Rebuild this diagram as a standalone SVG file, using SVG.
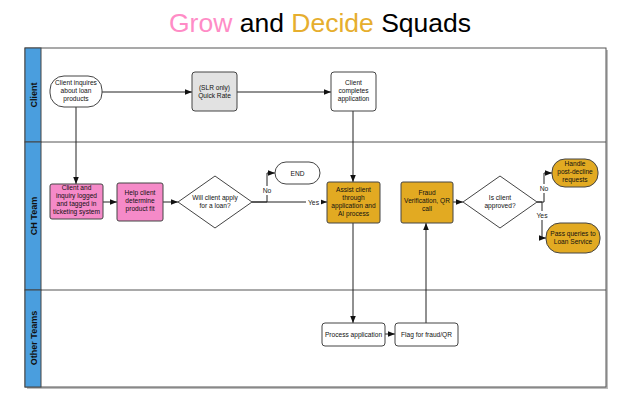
<svg xmlns="http://www.w3.org/2000/svg" width="632" height="418" viewBox="0 0 632 418">
  <defs>
    <marker id="arrow" viewBox="0 0 10 10" refX="10" refY="5" markerWidth="7" markerHeight="7" markerUnits="userSpaceOnUse" orient="auto">
      <path d="M0,1 L10,5 L0,9 Z" fill="#111"/>
    </marker>
    <style>
      .lane { fill: #ffffff; stroke: #555; stroke-width: 1; }
      .head { fill: #4a9ede; stroke: #444; stroke-width: 1; }
      .lanelabel { font-family: "Liberation Sans", Arial, sans-serif; font-size: 9px; font-weight: bold; fill: #111; text-anchor: middle; }
      .node { stroke: #444; stroke-width: 1; }
      .white { fill: #ffffff; }
      .gray { fill: #e2e2e2; }
      .pink { fill: #f58ac8; }
      .gold { fill: #e2aa22; }
      .t { font-family: "Liberation Sans", Arial, sans-serif; font-size: 6.6px; fill: #111; text-anchor: middle; }
      .edge { fill: none; stroke: #222; stroke-width: 1; }
      .elabel { font-family: "Liberation Sans", Arial, sans-serif; font-size: 6.8px; fill: #222; text-anchor: middle; }
    </style>
  </defs>

  <rect width="632" height="418" fill="#ffffff"/>

  <!-- title -->
  <text x="320" y="32" text-anchor="middle" font-family="Liberation Sans, Arial, sans-serif" font-size="26.5"><tspan fill="#ff8cc6">Grow</tspan><tspan fill="#000"> and </tspan><tspan fill="#e6ae2e">Decide</tspan><tspan fill="#000"> Squads</tspan></text>

  <!-- pool with lanes -->
  <g id="pool">
    <rect x="27" y="50" width="581" height="339" fill="#bdbdbd"/>
    <rect class="lane" x="25" y="48" width="581" height="339"/>
    <line x1="25" y1="142" x2="606" y2="142" stroke="#555" stroke-width="1"/>
    <line x1="25" y1="290" x2="606" y2="290" stroke="#555" stroke-width="1"/>
    <rect class="head" x="25" y="48" width="16" height="94"/>
    <rect class="head" x="25" y="142" width="16" height="148"/>
    <rect class="head" x="25" y="290" width="16" height="97"/>
    <text class="lanelabel" transform="translate(36.5,95) rotate(-90)">Client</text>
    <text class="lanelabel" transform="translate(36.5,216) rotate(-90)">CH Team</text>
    <text class="lanelabel" transform="translate(36.5,338) rotate(-90)">Other Teams</text>
  </g>

  <!-- connectors -->
  <g id="connectors">
    <path class="edge" d="M102,92 H192" marker-end="url(#arrow)"/>
    <path class="edge" d="M237,92 H331" marker-end="url(#arrow)"/>
    <path class="edge" d="M76,107 V184" marker-end="url(#arrow)"/>
    <path class="edge" d="M103,202 H117" marker-end="url(#arrow)"/>
    <path class="edge" d="M163,202 H178" marker-end="url(#arrow)"/>
    <path class="edge" d="M252,202 H267 V173 H275" marker-end="url(#arrow)"/>
    <path class="edge" d="M252,202 H327" marker-end="url(#arrow)"/>
    <path class="edge" d="M353,111 V182" marker-end="url(#arrow)"/>
    <path class="edge" d="M353,223 V323" marker-end="url(#arrow)"/>
    <path class="edge" d="M385,334 H395" marker-end="url(#arrow)"/>
    <path class="edge" d="M426,323 V223" marker-end="url(#arrow)"/>
    <path class="edge" d="M453,202 H463" marker-end="url(#arrow)"/>
    <path class="edge" d="M537,202 H544 V173 H552" marker-end="url(#arrow)"/>
    <path class="edge" d="M537,202 H542 V238 H546" marker-end="url(#arrow)"/>
    <rect x="260" y="186" width="14" height="9" fill="#fff"/>
    <text class="elabel" x="267" y="193">No</text>
    <rect x="306" y="198" width="15" height="9" fill="#fff"/>
    <text class="elabel" x="313.5" y="205">Yes</text>
    <rect x="537" y="184" width="14" height="9" fill="#fff"/>
    <text class="elabel" x="544" y="191">No</text>
    <rect x="535" y="211" width="15" height="9" fill="#fff"/>
    <text class="elabel" x="542" y="218">Yes</text>
  </g>

  <!-- Client lane -->
  <g id="client-inquires">
    <rect class="node white" x="50" y="76" width="52" height="31" rx="14"/>
    <text class="t" x="76" y="85">Client inquires</text>
    <text class="t" x="76" y="93">about loan</text>
    <text class="t" x="76" y="101">products</text>
  </g>
  <g id="quick-rate">
    <rect class="node gray" x="192" y="72" width="45" height="39" rx="3"/>
    <text class="t" x="214.5" y="90">(SLR only)</text>
    <text class="t" x="214.5" y="98">Quick Rate</text>
  </g>
  <g id="client-completes">
    <rect class="node white" x="331" y="72" width="45" height="39" rx="3"/>
    <text class="t" x="353.5" y="85">Client</text>
    <text class="t" x="353.5" y="93">completes</text>
    <text class="t" x="353.5" y="101">application</text>
  </g>

  <!-- CH Team lane -->
  <g id="client-logged">
    <rect class="node pink" x="50" y="184" width="53" height="35" rx="2"/>
    <text class="t" x="76.5" y="190">Client and</text>
    <text class="t" x="76.5" y="198">inquiry logged</text>
    <text class="t" x="76.5" y="206">and tagged in</text>
    <text class="t" x="76.5" y="214">ticketing system</text>
  </g>
  <g id="help-client">
    <rect class="node pink" x="117" y="183" width="46" height="38" rx="2"/>
    <text class="t" x="140" y="195">Help client</text>
    <text class="t" x="140" y="203">determine</text>
    <text class="t" x="140" y="211">product fit</text>
  </g>
  <g id="will-apply">
    <polygon class="node white" points="215,176 252,202 215,228 178,202"/>
    <text class="t" x="215" y="200">Will client apply</text>
    <text class="t" x="215" y="208">for a loan?</text>
  </g>
  <g id="end">
    <rect class="node white" x="275" y="162" width="45" height="22" rx="11"/>
    <text class="t" x="297.5" y="175.5">END</text>
  </g>
  <g id="assist-client">
    <rect class="node gold" x="327" y="182" width="53" height="41" rx="2"/>
    <text class="t" x="353.5" y="192">Assist client</text>
    <text class="t" x="353.5" y="200">through</text>
    <text class="t" x="353.5" y="208">application and</text>
    <text class="t" x="353.5" y="216">AI process</text>
  </g>
  <g id="fraud-verification">
    <rect class="node gold" x="401" y="182" width="52" height="41" rx="2"/>
    <text class="t" x="427" y="195">Fraud</text>
    <text class="t" x="427" y="203">Verification, QR</text>
    <text class="t" x="427" y="211">call</text>
  </g>
  <g id="is-approved">
    <polygon class="node white" points="500,176 537,202 500,228 463,202"/>
    <text class="t" x="500" y="200">Is client</text>
    <text class="t" x="500" y="208">approved?</text>
  </g>
  <g id="post-decline">
    <rect class="node gold" x="552" y="159" width="46" height="28" rx="13"/>
    <text class="t" x="575" y="166">Handle</text>
    <text class="t" x="575" y="174">post-decline</text>
    <text class="t" x="575" y="182">requests</text>
  </g>
  <g id="pass-queries">
    <rect class="node gold" x="546" y="223" width="54" height="30" rx="14"/>
    <text class="t" x="573" y="236">Pass queries to</text>
    <text class="t" x="573" y="244">Loan Service</text>
  </g>

  <!-- Other Teams lane -->
  <g id="process-application">
    <rect class="node white" x="322" y="323" width="63" height="23" rx="3"/>
    <text class="t" x="353.5" y="336.5">Process application</text>
  </g>
  <g id="flag-fraud">
    <rect class="node white" x="395" y="323" width="63" height="23" rx="3"/>
    <text class="t" x="426.5" y="336.5">Flag for fraud/QR</text>
  </g>
</svg>
